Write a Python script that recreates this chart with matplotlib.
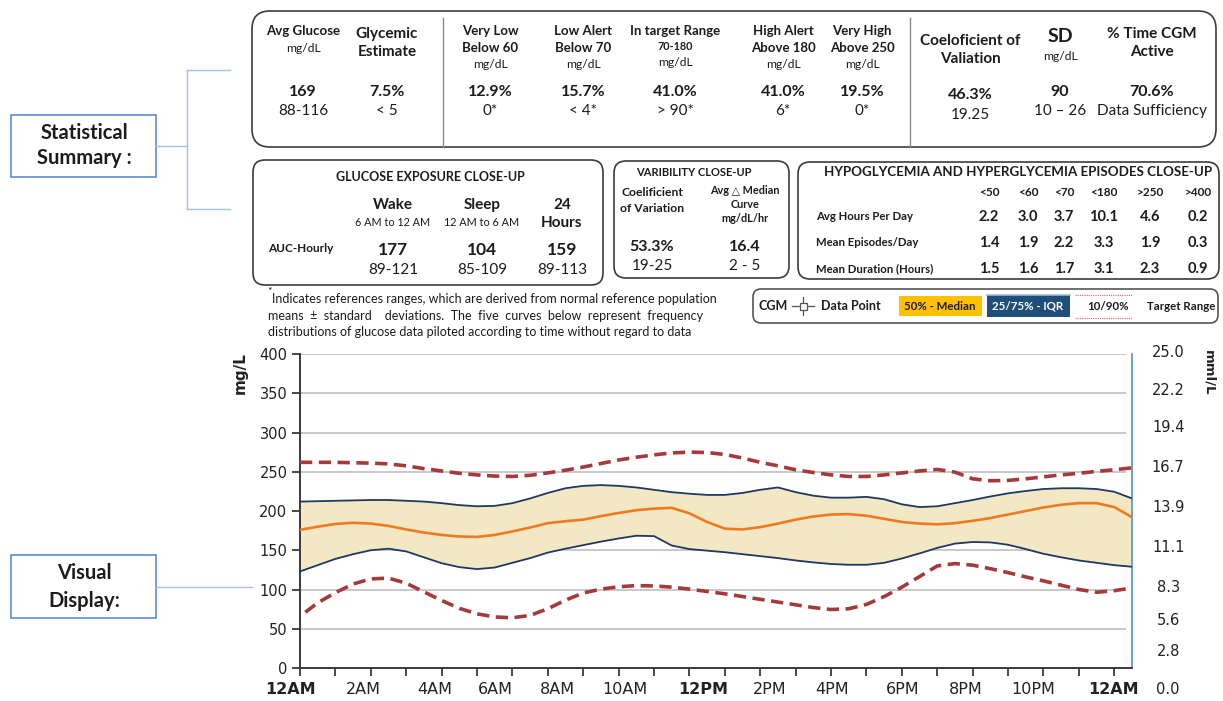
import matplotlib
matplotlib.use('Agg')
import matplotlib.pyplot as plt
from matplotlib.patches import FancyBboxPatch, Rectangle
from matplotlib.transforms import blended_transform_factory

FONT = ['Lato', 'DejaVu Sans']
INK = '#1c1c1c'

# ---- data ----
stat_heads = [["Avg Glucose", "mg/dL"], ["Glycemic", "Estimate"], ["Very Low", "Below 60", "mg/dL"],
              ["Low Alert", "Below 70", "mg/dL"], ["In target Range", "70-180", "mg/dL"],
              ["High Alert", "Above 180", "mg/dL"], ["Very High", "Above 250", "mg/dL"],
              ["Coeloficient of", "Valiation"], ["SD", "mg/dL"], ["% Time CGM", "Active"]]
stat_values = ["169", "7.5%", "12.9%", "15.7%", "41.0%", "41.0%", "19.5%", "46.3%", "90", "70.6%"]
stat_refs = ["88-116", "< 5", "0*", "< 4*", "> 90*", "6*", "0*", "19.25", "10 – 26", "Data Sufficiency"]

exposure_cols = [["Wake", "6 AM to 12 AM"], ["Sleep", "12 AM to 6 AM"], ["24", "Hours"]]
auc_hourly = ["177", "104", "159"]
auc_refs = ["89-121", "85-109", "89-113"]

var_cols = [["Coelificient", "of Variation"], ["Avg △ Median", "Curve", "mg/dL/hr"]]
var_values = ["53.3%", "16.4"]
var_refs = ["19-25", "2 - 5"]

hypo_cols = ["<50", "<60", "<70", "<180", ">250", ">400"]
hypo_rows = ["Avg Hours Per Day", "Mean Episodes/Day", "Mean Duration (Hours)"]
avg_hours = [2.2, 3.0, 3.7, 10.1, 4.6, 0.2]
mean_episodes = [1.4, 1.9, 2.2, 3.3, 1.9, 0.3]
mean_duration = [1.5, 1.6, 1.7, 3.1, 2.3, 0.9]

hours = [i * 0.5 for i in range(48)]
p75 = [212, 212.5, 213, 213.5, 214, 214, 213, 212, 210, 207.5, 206, 206.5, 210, 216, 223, 229,
       232, 233, 232, 230, 227, 224, 222, 220.5, 220.5, 223, 227, 230, 224, 219.5, 217, 217,
       218, 215, 208.5, 205, 206, 210, 214, 218.5, 222.5, 225.5, 228, 229, 229, 228, 224.5, 216]
p50 = [176, 180, 183.5, 185, 184, 181, 176.5, 172.5, 169.5, 167.5, 167, 169.5, 174, 179, 184.5, 187,
       189, 193.5, 197.5, 201, 203, 204, 197, 186, 177.5, 176.5, 179.5, 184, 189, 193, 195.5, 196,
       194, 190, 186, 184, 183, 184.5, 187.5, 191, 195.5, 200, 204.5, 208, 210, 210, 205, 192]
p25 = [123, 131, 139, 145, 150, 152, 148.5, 141, 133.5, 128.5, 126, 128, 134, 140, 147, 152,
       156.5, 161, 165, 168.5, 168, 156, 151.5, 149.5, 147.5, 145, 142.5, 140, 137, 134.5, 132.5, 131.5,
       131.5, 134, 139.5, 146, 153, 158.5, 160.5, 160, 157, 151.5, 145.5, 141, 137, 134, 131, 129]
p90 = [262, 262, 262, 261.5, 261, 260, 257.5, 254, 251, 248, 246, 244.5, 244, 245.5, 248.5, 252,
       256, 260.5, 265, 268.5, 271.5, 274, 275, 274.5, 272, 267.5, 262, 257.5, 252.5, 249, 246, 244,
       244, 246, 248.5, 251, 253, 249.5, 241, 238.5, 239, 241, 243.5, 246, 248, 250.5, 252.5, 255]
hours_p10 = [0.15] + hours[1:]
p10 = [71, 83, 96, 107, 113.5, 114.5, 108, 97, 86, 76, 69, 65, 64, 67, 75.5, 86.5,
       95.5, 100.5, 103.5, 105, 104.5, 103, 100.5, 97.5, 94.5, 91, 87.5, 84, 80.5, 77, 74.5, 75.5,
       81, 91, 103, 116.5, 130, 133, 131, 126.5, 121.5, 116, 111, 105.5, 100, 96.5, 98.5, 102]

time_labels = ["12AM", "2AM", "4AM", "6AM", "8AM", "10AM", "12PM", "2PM", "4PM", "6PM", "8PM", "10PM", "12AM"]
time_label_pos = [-0.28, 1.8, 3.8, 5.52, 7.27, 9.18, 11.4, 13.27, 15.03, 17.03, 18.8, 20.7, 22.98]
mmol_labels = ["25.0", "22.2", "19.4", "16.7", "13.9", "11.1", "8.3", "5.6", "2.8", "0.0"]
mmol_pos = [402, 354, 307, 256, 205, 154, 103, 61, 21, -28]

# ---- figure, pixel overlay ----
W, H = 1223, 701
fig = plt.figure(figsize=(W / 100, H / 100), dpi=100)
bg = fig.add_axes([0, 0, 1, 1])
bg.set_xlim(0, W)
bg.set_ylim(H, 0)
bg.axis('off')


def rbox(x, y, w, h, r=14, ec='#3c3c3c', lw=1.2):
    bg.add_patch(FancyBboxPatch((x, y), w, h, boxstyle="round,pad=0,rounding_size=%d" % r,
                                fc='white', ec=ec, lw=lw))


def txt(x, y, s, size=10, bold=False, color=INK, ha='center', **kw):
    bg.text(x, y, s, fontsize=size, fontweight='bold' if bold else 'normal', color=color,
            ha=ha, va='center', family=FONT, **kw)


# left labels + connectors
lblue = '#A8C1DE'
bg.add_patch(Rectangle((11, 115), 145, 62, fc='white', ec='#5B8ED0', lw=1.2))
txt(84, 133, "Statistical", 14.5, True)
txt(84, 158, "Summary :", 14.5, True)
bg.plot([156, 187], [146, 146], color=lblue, lw=1)
bg.plot([187, 187], [70, 209], color=lblue, lw=1)
bg.plot([187, 230], [70, 70], color=lblue, lw=1)
bg.plot([187, 230], [209, 209], color=lblue, lw=1)

bg.add_patch(Rectangle((11, 555), 145, 63, fc='white', ec='#5B8ED0', lw=1.2))
txt(84, 573, "Visual", 14.5, True)
txt(84, 601, "Display:", 14.5, True)
bg.plot([156, 252], [587, 587], color=lblue, lw=1)

# top summary box
rbox(252, 11, 964, 136, r=18)
bg.plot([443, 443], [18, 147], color='#8a8a8a', lw=1)
bg.plot([910, 910], [18, 147], color='#8a8a8a', lw=1)
col_x = [303, 387, 490, 583, 675, 783, 862, 970, 1060, 1152]
for i, (cx, head) in enumerate(zip(col_x, stat_heads)):
    if i in (1, 7, 9):
        y0 = 41 if i == 7 else 34
        txt(cx, y0, head[0], 11, True)
        txt(cx, y0 + 18, head[1], 11, True)
    elif i == 8:
        txt(cx, 37, head[0], 14, True)
        txt(cx, 57, head[1], 8.7)
    elif i == 0:
        txt(cx, 31, head[0], 9.5, True)
        txt(cx, 48, head[1], 8.7)
    elif i == 4:
        txt(cx, 31, head[0], 9.5, True)
        txt(cx, 47, head[1], 7.8, True)
        txt(cx, 63, head[2], 8.7)
    else:
        txt(cx, 31, head[0], 9.5, True)
        txt(cx, 48, head[1], 9.5, True)
        txt(cx, 65, head[2], 8.7)
    dy = 3 if i == 7 else 0
    txt(cx, 92 + dy, stat_values[i], 11.5, True)
    txt(cx, 111 + dy + (1 if i == 7 else 0), stat_refs[i], 11)

# glucose exposure box
rbox(253, 160, 350, 125, r=12)
txt(430, 177, "GLUCOSE EXPOSURE CLOSE-UP", 9, True)
exp_x = [393, 482, 562]
for cx, col, v, r in zip(exp_x, exposure_cols, auc_hourly, auc_refs):
    txt(cx, 205, col[0], 11, True)
    if col[0] == "24":
        txt(cx, 223, col[1], 11, True)
    else:
        txt(cx, 222, col[1], 7.8)
    txt(cx, 250, v, 12.5, True)
    txt(cx, 270, r, 11)
txt(268, 248, "AUC-Hourly", 8.5, True, ha='left')

# variability box
rbox(614, 161, 175, 117, r=12)
txt(694, 173, "VARIBILITY CLOSE-UP", 8, True)
var_x = [652, 745]
txt(var_x[0], 193, var_cols[0][0], 8.7, True)
txt(var_x[0], 209, var_cols[0][1], 8.7, True)
for k, s in enumerate(var_cols[1]):
    txt(var_x[1], 191 + k * 13.5, s, 7.8, True)
for cx, v, r in zip(var_x, var_values, var_refs):
    txt(cx, 247, v, 11.5, True)
    txt(cx, 266, r, 11)

# hypo / hyper box
rbox(798, 162, 421, 117, r=12)
txt(1018, 172, "HYPOGLYCEMIA AND HYPERGLYCEMIA EPISODES CLOSE-UP", 9.6, True)
hx = [989, 1028, 1064, 1104, 1150, 1198]
for cx, c in zip(hx, hypo_cols):
    txt(cx, 192, c, 8.5, True)
for ry, name, vals in zip([217, 243, 269], hypo_rows, [avg_hours, mean_episodes, mean_duration]):
    txt(816, ry, name, 8.2, True, ha='left')
    for cx, v in zip(hx, vals):
        txt(cx, ry, "%.1f" % v, 10.5, True)

# footnote
txt(267, 291, "*", 7.5, ha='left')
txt(272, 299, "Indicates references ranges, which are derived from normal reference population", 9, ha='left')
txt(268, 316, "means  ±  standard    deviations.  The  five  curves  below  represent  frequency", 9, ha='left')
txt(268, 332, "distributions of glucose data piloted according to time without regard to data", 9, ha='left')

# legend box
rbox(753, 289, 465, 34, r=8, ec='#555555')
txt(773, 306, "CGM", 9, True)
bg.plot([792, 814], [306, 306], color='#555555', lw=0.9)
bg.plot([803, 803], [297, 315], color='#555555', lw=0.9)
bg.add_patch(Rectangle((799.5, 302.5), 7, 7, fc='white', ec='#555555', lw=0.9, zorder=3))
txt(851, 306, "Data Point", 9, True)
bg.add_patch(Rectangle((899, 296), 83, 20, fc='#FFC000', ec='none'))
txt(940, 306, "50% - Median", 8.3, True)
bg.add_patch(Rectangle((987, 295), 83, 22, fc='#1F4E79', ec='none'))
bg.plot([987, 1070], [295, 295], color='#9DB7D5', lw=1.2)
txt(1028, 306, "25/75% - IQR", 8.3, True, color='white')
bg.plot([1075, 1132], [294.5, 294.5], color='#D66', lw=0.8, ls=(0, (1, 1)))
bg.plot([1075, 1132], [317.5, 317.5], color='#D66', lw=0.8, ls=(0, (1, 1)))
txt(1108, 306, "10/90%", 8.3, True)
txt(1181, 306, "Target Range", 8.3, True)

# ---- chart ----
ax = fig.add_axes([300 / W, 1 - 668 / H, 832 / W, 314 / H])
ax.set_xlim(0, 23.5)
ax.set_ylim(0, 400)
ax.patch.set_alpha(0)
for v in range(50, 401, 50):
    ax.axhline(v, xmin=0, xmax=0.992, color='#C8C8C8', lw=1.4, zorder=0)
ax.fill_between(hours, p25, p75, color='#F3E8C4', lw=0, zorder=1)
ax.plot(hours, p75, color='#1F3864', lw=1.3, zorder=3)
ax.plot(hours, p25, color='#1F3864', lw=1.3, zorder=3)
ax.plot(hours, p50, color='#F07B1F', lw=1.9, zorder=3)
ax.plot(hours, p90, color='#A63A3A', lw=2.6, dashes=(3.4, 1.8), zorder=3)
ax.plot(hours_p10, p10, color='#A63A3A', lw=2.6, dashes=(3.4, 1.8), zorder=3)

for s in ['left', 'bottom']:
    ax.spines[s].set_color('#3a3a3a')
    ax.spines[s].set_linewidth(1.4)
ax.spines['top'].set_visible(False)
ax.spines['right'].set_color('#5B9BD5')
ax.spines['right'].set_linewidth(1.3)

ax.set_yticks(range(0, 401, 50))
ax.tick_params(axis='y', direction='out', length=6, width=1.3, color='#3a3a3a',
               labelsize=10.5, pad=3, labelcolor='#222222')
ax.set_xticks(range(24))
ax.set_xticklabels([])
ax.tick_params(axis='x', direction='out', length=5.5, width=1.3, color='#3a3a3a')

bt = blended_transform_factory(ax.transData, ax.transAxes)
for pos, lab in zip(time_label_pos, time_labels):
    bold = lab in ("12AM", "12PM")
    ax.text(pos, -0.07, lab, transform=bt, ha='center', va='center', fontsize=11.5,
            fontweight='bold' if bold else 'normal', color='#222222')

rt = blended_transform_factory(ax.transAxes, ax.transData)
for pos, lab in zip(mmol_pos, mmol_labels):
    ax.text(1.0435, pos, lab, transform=rt, ha='center', va='center', fontsize=10.5,
            color='#222222', clip_on=False)

ax.text(-0.072, 0.94, "mg/L", transform=ax.transAxes, rotation=90, ha='center', va='center',
        fontsize=11, fontweight='bold', color='#222222')
ax.text(1.092, 0.94, "mml/L", transform=ax.transAxes, rotation=270, ha='center', va='center',
        fontsize=9.5, fontweight='bold', color='#222222')

fig.savefig('out.png', dpi=100)
